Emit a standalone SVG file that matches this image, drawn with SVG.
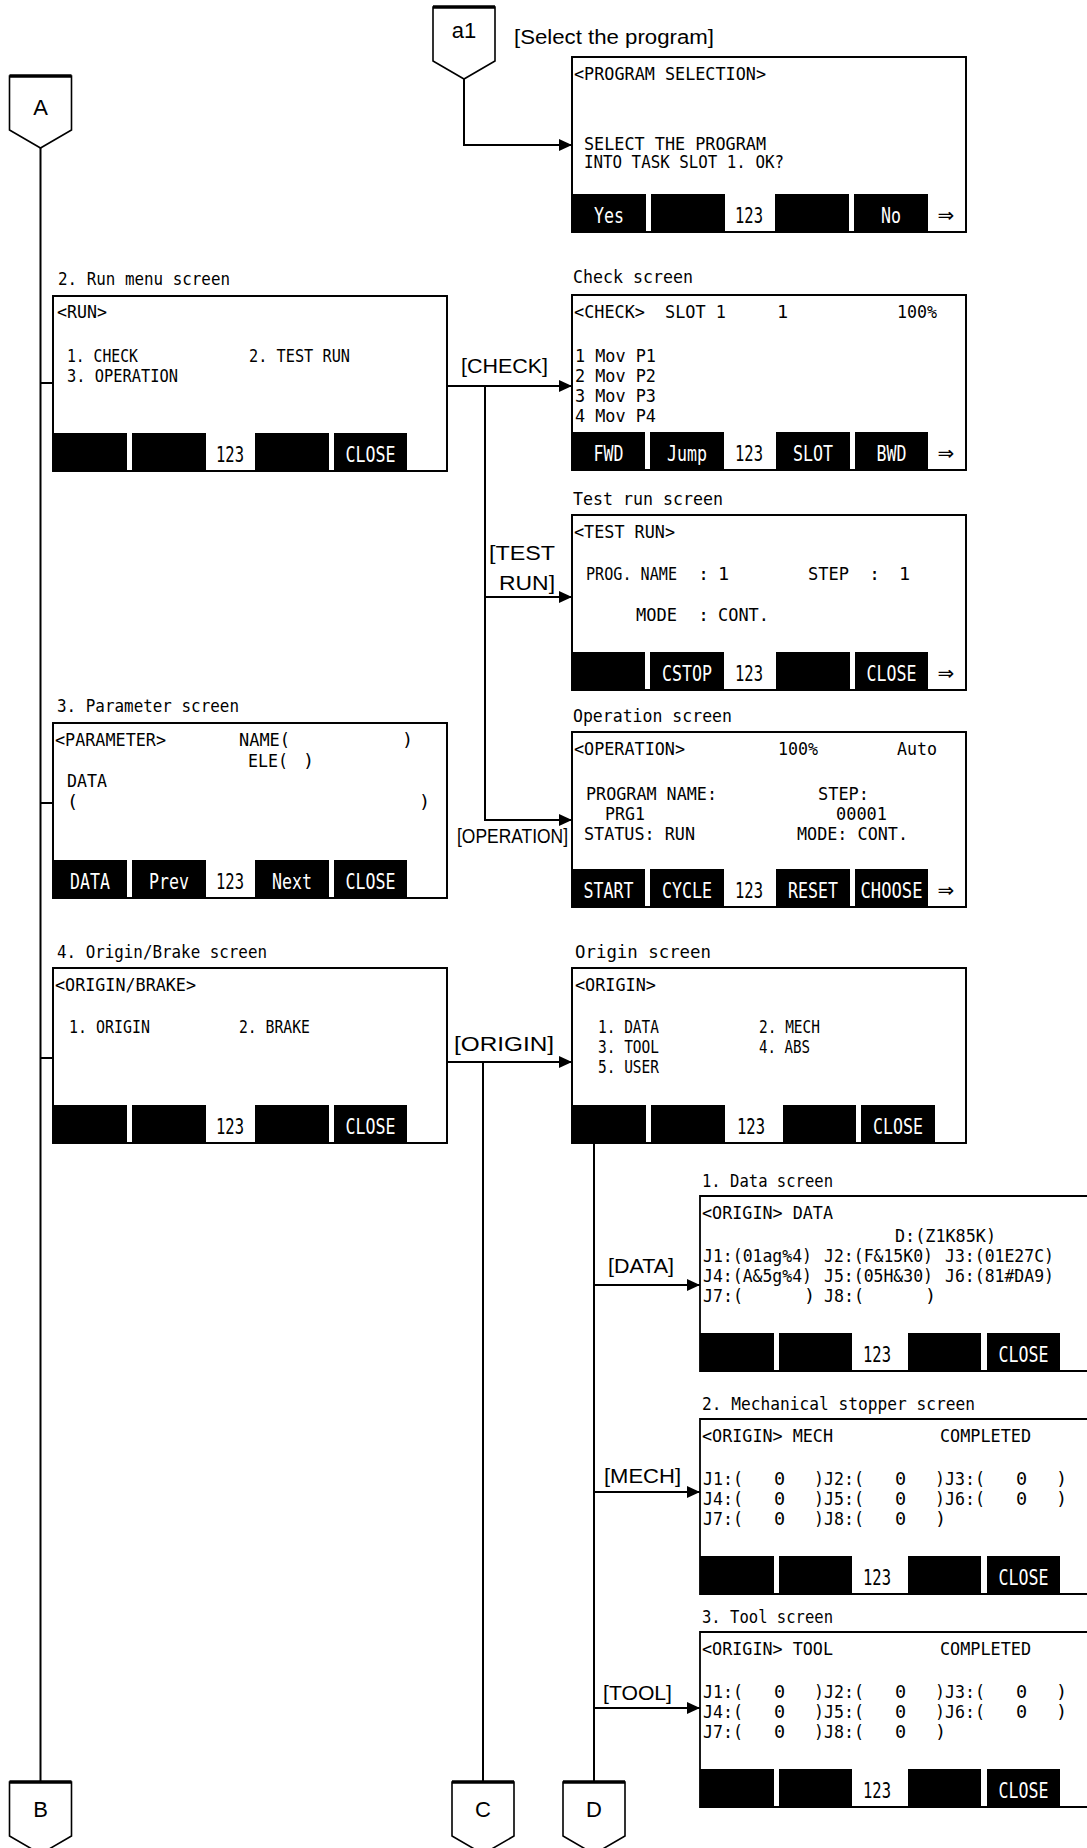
<svg xmlns="http://www.w3.org/2000/svg" width="1087" height="1848" viewBox="0 0 1087 1848">
<defs>
<style>
.bx{fill:#fff;stroke:#000;stroke-width:1.8}
.bo{fill:none;stroke:#000;stroke-width:1.8}
.k{fill:#000}
.t{font-family:"DejaVu Sans Mono","Liberation Mono",monospace;font-size:18.5px;fill:#000}
.kl{font-family:"DejaVu Sans Mono","Liberation Mono",monospace;font-size:22px;fill:#fff;text-anchor:middle}
.kn{font-family:"DejaVu Sans Mono","Liberation Mono",monospace;font-size:22px;fill:#000;text-anchor:middle}
.ar{font-family:"DejaVu Sans",sans-serif;font-size:20px;text-anchor:middle;fill:#000}
.lb{font-family:"Liberation Sans",Arial,sans-serif;font-size:19.5px;fill:#000}
.cn{fill:#fff;stroke:#000;stroke-width:1.6}
.ct{stroke:#000;stroke-width:3.5}
.cl{font-family:"Liberation Sans",Arial,sans-serif;font-size:22px;text-anchor:middle;fill:#000}
.ln{fill:none;stroke:#000;stroke-width:2}
</style>
<marker id="ah" markerWidth="14" markerHeight="12" refX="13" refY="6" orient="auto" markerUnits="userSpaceOnUse"><path d="M0,0 L13,6 L0,12 z" fill="#000"/></marker>
</defs>
<rect width="1087" height="1848" fill="#fff"/>

<g id="connectors">
<path class="ln" d="M464,79 V145 H572" marker-end="url(#ah)"/>
<path class="ln" d="M40.5,148 V1782"/>
<path class="ln" d="M40.5,383 H53"/>
<path class="ln" d="M40.5,803 H53"/>
<path class="ln" d="M40.5,1058 H53"/>
<path class="ln" d="M447,386 H572" marker-end="url(#ah)"/>
<path class="ln" d="M485,386 V820 H572" marker-end="url(#ah)"/>
<path class="ln" d="M485,597 H572" marker-end="url(#ah)"/>
<path class="ln" d="M447,1062 H572" marker-end="url(#ah)"/>
<path class="ln" d="M483,1062 V1782"/>
<path class="ln" d="M594,1143 V1782"/>
<path class="ln" d="M594,1285 H700" marker-end="url(#ah)"/>
<path class="ln" d="M594,1492 H700" marker-end="url(#ah)"/>
<path class="ln" d="M594,1708 H700" marker-end="url(#ah)"/>
<text class="lb" x="514" y="44" font-size="18" textLength="200" lengthAdjust="spacingAndGlyphs">[Select the program]</text>
<text class="lb" x="461" y="373" textLength="87" lengthAdjust="spacingAndGlyphs">[CHECK]</text>
<text class="lb" x="489" y="560" textLength="66" lengthAdjust="spacingAndGlyphs">[TEST</text>
<text class="lb" x="499" y="590" textLength="56" lengthAdjust="spacingAndGlyphs">RUN]</text>
<text class="lb" x="457" y="843" font-size="17" textLength="111" lengthAdjust="spacingAndGlyphs">[OPERATION]</text>
<text class="lb" x="454" y="1051" textLength="100" lengthAdjust="spacingAndGlyphs">[ORIGIN]</text>
<text class="lb" x="608" y="1273" textLength="66" lengthAdjust="spacingAndGlyphs">[DATA]</text>
<text class="lb" x="604" y="1483" textLength="77" lengthAdjust="spacingAndGlyphs">[MECH]</text>
<text class="lb" x="603" y="1700" textLength="69" lengthAdjust="spacingAndGlyphs">[TOOL]</text>
</g>

<g id="conn-a1">
<polygon class="cn" points="433,7 495,7 495,61 464,79 433,61"/>
<line class="ct" x1="433" y1="7" x2="495" y2="7"/>
<text class="cl" x="464" y="38" font-size="20">a1</text>
</g>
<g id="conn-A">
<polygon class="cn" points="9.5,76 71.5,76 71.5,130 40.5,148 9.5,130"/>
<line class="ct" x1="9.5" y1="76" x2="71.5" y2="76"/>
<text class="cl" x="40.5" y="115">A</text>
</g>
<g id="conn-B">
<polygon class="cn" points="9.5,1782 71.5,1782 71.5,1836 40.5,1854 9.5,1836"/>
<line class="ct" x1="9.5" y1="1782" x2="71.5" y2="1782"/>
<text class="cl" x="40.5" y="1817">B</text>
</g>
<g id="conn-C">
<polygon class="cn" points="452,1782 514,1782 514,1836 483,1854 452,1836"/>
<line class="ct" x1="452" y1="1782" x2="514" y2="1782"/>
<text class="cl" x="483" y="1817">C</text>
</g>
<g id="conn-D">
<polygon class="cn" points="563,1782 625,1782 625,1836 594,1854 563,1836"/>
<line class="ct" x1="563" y1="1782" x2="625" y2="1782"/>
<text class="cl" x="594" y="1817">D</text>
</g>

<g id="program-selection">
<rect class="bx" x="572" y="57" width="394" height="175"/>
<rect class="k" x="572" y="194" width="74" height="38"/>
<rect class="k" x="651" y="194" width="74" height="38"/>
<rect class="k" x="775" y="194" width="74" height="38"/>
<rect class="k" x="854" y="194" width="74" height="38"/>
<rect class="bo" x="572" y="57" width="394" height="175"/>
<text class="t" x="574" y="80" textLength="192" lengthAdjust="spacingAndGlyphs">&lt;PROGRAM SELECTION&gt;</text>
<text class="t" x="584" y="150" textLength="182" lengthAdjust="spacingAndGlyphs">SELECT THE PROGRAM</text>
<text class="t" x="584" y="168" textLength="200" lengthAdjust="spacingAndGlyphs">INTO TASK SLOT 1. OK?</text>
<text class="kl" x="609" y="223" textLength="30" lengthAdjust="spacingAndGlyphs">Yes</text>
<text class="kn" x="749" y="223" textLength="28" lengthAdjust="spacingAndGlyphs">123</text>
<text class="kl" x="891" y="223" textLength="20" lengthAdjust="spacingAndGlyphs">No</text>
<text class="ar" x="946" y="222">⇒</text>
</g>

<g id="run-menu">
<text class="t" x="58" y="285" textLength="172" lengthAdjust="spacingAndGlyphs">2. Run menu screen</text>
<rect class="bx" x="53" y="296" width="394" height="175"/>
<rect class="k" x="53" y="433" width="74" height="38"/>
<rect class="k" x="132" y="433" width="74" height="38"/>
<rect class="k" x="255" y="433" width="74" height="38"/>
<rect class="k" x="334" y="433" width="73" height="38"/>
<rect class="bo" x="53" y="296" width="394" height="175"/>
<text class="t" x="57" y="318" textLength="50" lengthAdjust="spacingAndGlyphs">&lt;RUN&gt;</text>
<text class="t" x="67" y="362" textLength="71" lengthAdjust="spacingAndGlyphs">1. CHECK</text>
<text class="t" x="249" y="362" textLength="101" lengthAdjust="spacingAndGlyphs">2. TEST RUN</text>
<text class="t" x="67" y="382" textLength="111" lengthAdjust="spacingAndGlyphs">3. OPERATION</text>
<text class="kn" x="230" y="462" textLength="28" lengthAdjust="spacingAndGlyphs">123</text>
<text class="kl" x="370.5" y="462" textLength="50" lengthAdjust="spacingAndGlyphs">CLOSE</text>
</g>

<g id="check">
<text class="t" x="573" y="283" textLength="120" lengthAdjust="spacingAndGlyphs">Check screen</text>
<rect class="bx" x="572" y="295" width="394" height="175"/>
<rect class="k" x="572" y="432" width="73" height="38"/>
<rect class="k" x="650" y="432" width="74" height="38"/>
<rect class="k" x="776" y="432" width="74" height="38"/>
<rect class="k" x="855" y="432" width="73" height="38"/>
<rect class="bo" x="572" y="295" width="394" height="175"/>
<text class="t" x="574" y="318" textLength="71" lengthAdjust="spacingAndGlyphs">&lt;CHECK&gt;</text>
<text class="t" x="665" y="318" textLength="61" lengthAdjust="spacingAndGlyphs">SLOT 1</text>
<text class="t" x="777" y="318">1</text>
<text class="t" x="897" y="318" textLength="40" lengthAdjust="spacingAndGlyphs">100%</text>
<text class="t" x="575" y="362" textLength="81" lengthAdjust="spacingAndGlyphs">1 Mov P1</text>
<text class="t" x="575" y="382" textLength="81" lengthAdjust="spacingAndGlyphs">2 Mov P2</text>
<text class="t" x="575" y="402" textLength="81" lengthAdjust="spacingAndGlyphs">3 Mov P3</text>
<text class="t" x="575" y="422" textLength="81" lengthAdjust="spacingAndGlyphs">4 Mov P4</text>
<text class="kl" x="608.5" y="461" textLength="30" lengthAdjust="spacingAndGlyphs">FWD</text>
<text class="kl" x="687" y="461" textLength="40" lengthAdjust="spacingAndGlyphs">Jump</text>
<text class="kn" x="749" y="461" textLength="28" lengthAdjust="spacingAndGlyphs">123</text>
<text class="kl" x="813" y="461" textLength="40" lengthAdjust="spacingAndGlyphs">SLOT</text>
<text class="kl" x="891.5" y="461" textLength="30" lengthAdjust="spacingAndGlyphs">BWD</text>
<text class="ar" x="946" y="460">⇒</text>
</g>

<g id="test-run">
<text class="t" x="573" y="505" textLength="150" lengthAdjust="spacingAndGlyphs">Test run screen</text>
<rect class="bx" x="572" y="515" width="394" height="175"/>
<rect class="k" x="572" y="652" width="73" height="38"/>
<rect class="k" x="650" y="652" width="74" height="38"/>
<rect class="k" x="776" y="652" width="74" height="38"/>
<rect class="k" x="855" y="652" width="73" height="38"/>
<rect class="bo" x="572" y="515" width="394" height="175"/>
<text class="t" x="574" y="538" textLength="101" lengthAdjust="spacingAndGlyphs">&lt;TEST RUN&gt;</text>
<text class="t" x="586" y="580" textLength="91" lengthAdjust="spacingAndGlyphs">PROG. NAME</text>
<text class="t" x="698" y="580">:</text>
<text class="t" x="718" y="580">1</text>
<text class="t" x="808" y="580" textLength="41" lengthAdjust="spacingAndGlyphs">STEP</text>
<text class="t" x="869" y="580">:</text>
<text class="t" x="899" y="580">1</text>
<text class="t" x="636" y="621" textLength="41" lengthAdjust="spacingAndGlyphs">MODE</text>
<text class="t" x="698" y="621">:</text>
<text class="t" x="718" y="621" textLength="51" lengthAdjust="spacingAndGlyphs">CONT.</text>
<text class="kl" x="687" y="681" textLength="50" lengthAdjust="spacingAndGlyphs">CSTOP</text>
<text class="kn" x="749" y="681" textLength="28" lengthAdjust="spacingAndGlyphs">123</text>
<text class="kl" x="891.5" y="681" textLength="50" lengthAdjust="spacingAndGlyphs">CLOSE</text>
<text class="ar" x="946" y="680">⇒</text>
</g>

<g id="parameter">
<text class="t" x="57" y="712" textLength="182" lengthAdjust="spacingAndGlyphs">3. Parameter screen</text>
<rect class="bx" x="53" y="723" width="394" height="175"/>
<rect class="k" x="53" y="860" width="74" height="38"/>
<rect class="k" x="132" y="860" width="74" height="38"/>
<rect class="k" x="255" y="860" width="74" height="38"/>
<rect class="k" x="334" y="860" width="73" height="38"/>
<rect class="bo" x="53" y="723" width="394" height="175"/>
<text class="t" x="55" y="746" textLength="111" lengthAdjust="spacingAndGlyphs">&lt;PARAMETER&gt;</text>
<text class="t" x="239" y="746" textLength="51" lengthAdjust="spacingAndGlyphs">NAME(</text>
<text class="t" x="402" y="746">)</text>
<text class="t" x="248" y="767" textLength="40" lengthAdjust="spacingAndGlyphs">ELE(</text>
<text class="t" x="303" y="767">)</text>
<text class="t" x="67" y="787" textLength="40" lengthAdjust="spacingAndGlyphs">DATA</text>
<text class="t" x="67" y="808">(</text>
<text class="t" x="419" y="808">)</text>
<text class="kl" x="90" y="889" textLength="40" lengthAdjust="spacingAndGlyphs">DATA</text>
<text class="kl" x="169" y="889" textLength="40" lengthAdjust="spacingAndGlyphs">Prev</text>
<text class="kn" x="230" y="889" textLength="28" lengthAdjust="spacingAndGlyphs">123</text>
<text class="kl" x="292" y="889" textLength="40" lengthAdjust="spacingAndGlyphs">Next</text>
<text class="kl" x="370.5" y="889" textLength="50" lengthAdjust="spacingAndGlyphs">CLOSE</text>
</g>

<g id="operation">
<text class="t" x="573" y="722" textLength="159" lengthAdjust="spacingAndGlyphs">Operation screen</text>
<rect class="bx" x="572" y="732" width="394" height="175"/>
<rect class="k" x="572" y="869" width="73" height="38"/>
<rect class="k" x="650" y="869" width="74" height="38"/>
<rect class="k" x="776" y="869" width="74" height="38"/>
<rect class="k" x="855" y="869" width="73" height="38"/>
<rect class="bo" x="572" y="732" width="394" height="175"/>
<text class="t" x="574" y="755" textLength="111" lengthAdjust="spacingAndGlyphs">&lt;OPERATION&gt;</text>
<text class="t" x="778" y="755" textLength="40" lengthAdjust="spacingAndGlyphs">100%</text>
<text class="t" x="897" y="755" textLength="40" lengthAdjust="spacingAndGlyphs">Auto</text>
<text class="t" x="586" y="800" textLength="131" lengthAdjust="spacingAndGlyphs">PROGRAM NAME:</text>
<text class="t" x="818" y="800" textLength="51" lengthAdjust="spacingAndGlyphs">STEP:</text>
<text class="t" x="605" y="820" textLength="40" lengthAdjust="spacingAndGlyphs">PRG1</text>
<text class="t" x="836" y="820" textLength="51" lengthAdjust="spacingAndGlyphs">00001</text>
<text class="t" x="584" y="840" textLength="111" lengthAdjust="spacingAndGlyphs">STATUS: RUN</text>
<text class="t" x="797" y="840" textLength="111" lengthAdjust="spacingAndGlyphs">MODE: CONT.</text>
<text class="kl" x="608.5" y="898" textLength="50" lengthAdjust="spacingAndGlyphs">START</text>
<text class="kl" x="687" y="898" textLength="50" lengthAdjust="spacingAndGlyphs">CYCLE</text>
<text class="kn" x="749" y="898" textLength="28" lengthAdjust="spacingAndGlyphs">123</text>
<text class="kl" x="813" y="898" textLength="50" lengthAdjust="spacingAndGlyphs">RESET</text>
<text class="kl" x="891.5" y="898" textLength="62" lengthAdjust="spacingAndGlyphs">CHOOSE</text>
<text class="ar" x="946" y="897">⇒</text>
</g>

<g id="origin-brake">
<text class="t" x="57" y="958" textLength="210" lengthAdjust="spacingAndGlyphs">4. Origin/Brake screen</text>
<rect class="bx" x="53" y="968" width="394" height="175"/>
<rect class="k" x="53" y="1105" width="74" height="38"/>
<rect class="k" x="132" y="1105" width="74" height="38"/>
<rect class="k" x="255" y="1105" width="74" height="38"/>
<rect class="k" x="334" y="1105" width="73" height="38"/>
<rect class="bo" x="53" y="968" width="394" height="175"/>
<text class="t" x="55" y="991" textLength="141" lengthAdjust="spacingAndGlyphs">&lt;ORIGIN/BRAKE&gt;</text>
<text class="t" x="69" y="1033" textLength="81" lengthAdjust="spacingAndGlyphs">1. ORIGIN</text>
<text class="t" x="239" y="1033" textLength="71" lengthAdjust="spacingAndGlyphs">2. BRAKE</text>
<text class="kn" x="230" y="1134" textLength="28" lengthAdjust="spacingAndGlyphs">123</text>
<text class="kl" x="370.5" y="1134" textLength="50" lengthAdjust="spacingAndGlyphs">CLOSE</text>
</g>

<g id="origin">
<text class="t" x="575" y="958" textLength="136" lengthAdjust="spacingAndGlyphs">Origin screen</text>
<rect class="bx" x="572" y="968" width="394" height="175"/>
<rect class="k" x="572" y="1105" width="74" height="38"/>
<rect class="k" x="651" y="1105" width="74" height="38"/>
<rect class="k" x="783" y="1105" width="73" height="38"/>
<rect class="k" x="861" y="1105" width="74" height="38"/>
<rect class="bo" x="572" y="968" width="394" height="175"/>
<text class="t" x="575" y="991" textLength="81" lengthAdjust="spacingAndGlyphs">&lt;ORIGIN&gt;</text>
<text class="t" x="598" y="1033" textLength="61" lengthAdjust="spacingAndGlyphs">1. DATA</text>
<text class="t" x="759" y="1033" textLength="61" lengthAdjust="spacingAndGlyphs">2. MECH</text>
<text class="t" x="598" y="1053" textLength="61" lengthAdjust="spacingAndGlyphs">3. TOOL</text>
<text class="t" x="759" y="1053" textLength="51" lengthAdjust="spacingAndGlyphs">4. ABS</text>
<text class="t" x="598" y="1073" textLength="61" lengthAdjust="spacingAndGlyphs">5. USER</text>
<text class="kn" x="751" y="1134" textLength="28" lengthAdjust="spacingAndGlyphs">123</text>
<text class="kl" x="898" y="1134" textLength="50" lengthAdjust="spacingAndGlyphs">CLOSE</text>
</g>

<g id="data">
<text class="t" x="702" y="1187" textLength="131" lengthAdjust="spacingAndGlyphs">1. Data screen</text>
<rect x="700" y="1196" width="387" height="175" fill="#fff"/>
<rect class="k" x="700" y="1333" width="74" height="38"/>
<rect class="k" x="779" y="1333" width="73" height="38"/>
<rect class="k" x="908" y="1333" width="73" height="38"/>
<rect class="k" x="987" y="1333" width="73" height="38"/>
<path class="bo" d="M1087,1196 H700 V1371 H1087"/>
<text class="t" x="702" y="1219" textLength="131" lengthAdjust="spacingAndGlyphs">&lt;ORIGIN&gt; DATA</text>
<text class="t" x="895" y="1242" textLength="101" lengthAdjust="spacingAndGlyphs">D:(Z1K85K)</text>
<text class="t" x="703" y="1262" font-size="18" textLength="109" lengthAdjust="spacingAndGlyphs">J1:(01ag%4)</text>
<text class="t" x="824" y="1262" font-size="18" textLength="109" lengthAdjust="spacingAndGlyphs">J2:(F&amp;15K0)</text>
<text class="t" x="945" y="1262" font-size="18" textLength="109" lengthAdjust="spacingAndGlyphs">J3:(01E27C)</text>
<text class="t" x="703" y="1282" font-size="18" textLength="109" lengthAdjust="spacingAndGlyphs">J4:(A&amp;5g%4)</text>
<text class="t" x="824" y="1282" font-size="18" textLength="109" lengthAdjust="spacingAndGlyphs">J5:(05H&amp;30)</text>
<text class="t" x="945" y="1282" font-size="18" textLength="109" lengthAdjust="spacingAndGlyphs">J6:(81#DA9)</text>
<text class="t" x="703" y="1302" textLength="40" lengthAdjust="spacingAndGlyphs">J7:(</text>
<text class="t" x="804" y="1302">)</text>
<text class="t" x="824" y="1302" textLength="40" lengthAdjust="spacingAndGlyphs">J8:(</text>
<text class="t" x="925" y="1302">)</text>
<text class="kn" x="877" y="1362" textLength="28" lengthAdjust="spacingAndGlyphs">123</text>
<text class="kl" x="1023.5" y="1362" textLength="50" lengthAdjust="spacingAndGlyphs">CLOSE</text>
</g>

<g id="mech">
<text class="t" x="702" y="1410" textLength="273" lengthAdjust="spacingAndGlyphs">2. Mechanical stopper screen</text>
<rect x="700" y="1419" width="387" height="175" fill="#fff"/>
<rect class="k" x="700" y="1556" width="74" height="38"/>
<rect class="k" x="779" y="1556" width="73" height="38"/>
<rect class="k" x="908" y="1556" width="73" height="38"/>
<rect class="k" x="987" y="1556" width="73" height="38"/>
<path class="bo" d="M1087,1419 H700 V1594 H1087"/>
<text class="t" x="702" y="1442" textLength="131" lengthAdjust="spacingAndGlyphs">&lt;ORIGIN&gt; MECH</text>
<text class="t" x="940" y="1442" textLength="91" lengthAdjust="spacingAndGlyphs">COMPLETED</text>
<text class="t" x="703" y="1485" textLength="40" lengthAdjust="spacingAndGlyphs">J1:(</text>
<text class="t" x="774" y="1485">0</text>
<text class="t" x="814" y="1485" textLength="50" lengthAdjust="spacingAndGlyphs">)J2:(</text>
<text class="t" x="895" y="1485">0</text>
<text class="t" x="935" y="1485" textLength="50" lengthAdjust="spacingAndGlyphs">)J3:(</text>
<text class="t" x="1016" y="1485">0</text>
<text class="t" x="1056" y="1485">)</text>
<text class="t" x="703" y="1505" textLength="40" lengthAdjust="spacingAndGlyphs">J4:(</text>
<text class="t" x="774" y="1505">0</text>
<text class="t" x="814" y="1505" textLength="50" lengthAdjust="spacingAndGlyphs">)J5:(</text>
<text class="t" x="895" y="1505">0</text>
<text class="t" x="935" y="1505" textLength="50" lengthAdjust="spacingAndGlyphs">)J6:(</text>
<text class="t" x="1016" y="1505">0</text>
<text class="t" x="1056" y="1505">)</text>
<text class="t" x="703" y="1525" textLength="40" lengthAdjust="spacingAndGlyphs">J7:(</text>
<text class="t" x="774" y="1525">0</text>
<text class="t" x="814" y="1525" textLength="50" lengthAdjust="spacingAndGlyphs">)J8:(</text>
<text class="t" x="895" y="1525">0</text>
<text class="t" x="935" y="1525">)</text>
<text class="kn" x="877" y="1585" textLength="28" lengthAdjust="spacingAndGlyphs">123</text>
<text class="kl" x="1023.5" y="1585" textLength="50" lengthAdjust="spacingAndGlyphs">CLOSE</text>
</g>

<g id="tool">
<text class="t" x="702" y="1623" textLength="131" lengthAdjust="spacingAndGlyphs">3. Tool screen</text>
<rect x="700" y="1632" width="387" height="175" fill="#fff"/>
<rect class="k" x="700" y="1769" width="74" height="38"/>
<rect class="k" x="779" y="1769" width="73" height="38"/>
<rect class="k" x="908" y="1769" width="73" height="38"/>
<rect class="k" x="987" y="1769" width="73" height="38"/>
<path class="bo" d="M1087,1632 H700 V1807 H1087"/>
<text class="t" x="702" y="1655" textLength="131" lengthAdjust="spacingAndGlyphs">&lt;ORIGIN&gt; TOOL</text>
<text class="t" x="940" y="1655" textLength="91" lengthAdjust="spacingAndGlyphs">COMPLETED</text>
<text class="t" x="703" y="1698" textLength="40" lengthAdjust="spacingAndGlyphs">J1:(</text>
<text class="t" x="774" y="1698">0</text>
<text class="t" x="814" y="1698" textLength="50" lengthAdjust="spacingAndGlyphs">)J2:(</text>
<text class="t" x="895" y="1698">0</text>
<text class="t" x="935" y="1698" textLength="50" lengthAdjust="spacingAndGlyphs">)J3:(</text>
<text class="t" x="1016" y="1698">0</text>
<text class="t" x="1056" y="1698">)</text>
<text class="t" x="703" y="1718" textLength="40" lengthAdjust="spacingAndGlyphs">J4:(</text>
<text class="t" x="774" y="1718">0</text>
<text class="t" x="814" y="1718" textLength="50" lengthAdjust="spacingAndGlyphs">)J5:(</text>
<text class="t" x="895" y="1718">0</text>
<text class="t" x="935" y="1718" textLength="50" lengthAdjust="spacingAndGlyphs">)J6:(</text>
<text class="t" x="1016" y="1718">0</text>
<text class="t" x="1056" y="1718">)</text>
<text class="t" x="703" y="1738" textLength="40" lengthAdjust="spacingAndGlyphs">J7:(</text>
<text class="t" x="774" y="1738">0</text>
<text class="t" x="814" y="1738" textLength="50" lengthAdjust="spacingAndGlyphs">)J8:(</text>
<text class="t" x="895" y="1738">0</text>
<text class="t" x="935" y="1738">)</text>
<text class="kn" x="877" y="1798" textLength="28" lengthAdjust="spacingAndGlyphs">123</text>
<text class="kl" x="1023.5" y="1798" textLength="50" lengthAdjust="spacingAndGlyphs">CLOSE</text>
</g>
</svg>
